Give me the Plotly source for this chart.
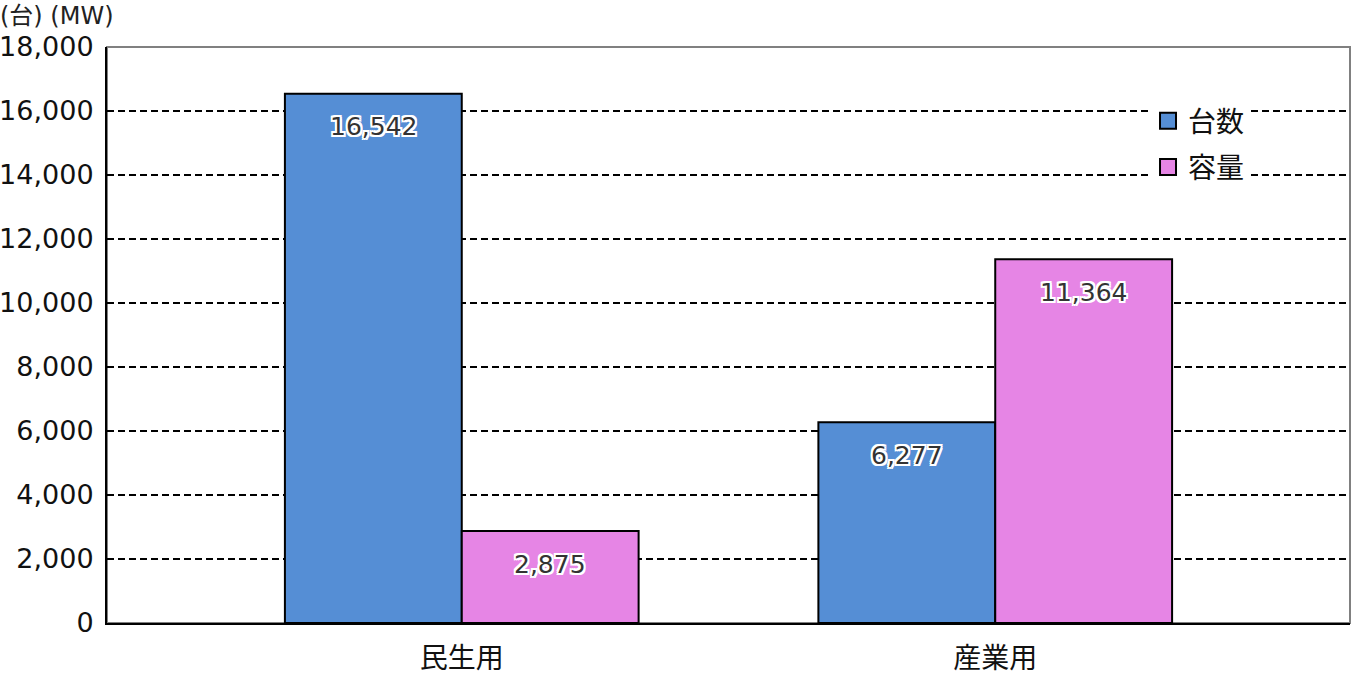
import plotly.graph_objects as go

categories = ['民生用', '産業用']
units = [16542, 6277]       # 台数
capacity = [2875, 11364]    # 容量 (MW)
series_names = ['台数', '容量']
y_ticks = list(range(0, 18001, 2000))

blue = '#558ED5'
pink = '#E685E5'
font_fam = 'DejaVu Sans, Noto Sans CJK JP, sans-serif'
outline = ', '.join(f'{dx}px {dy}px 0 #fff' for dx in (-2, 0, 2) for dy in (-2, 0, 2) if dx or dy)

fig = go.Figure()
for name, vals, col in zip(series_names, [units, capacity], [blue, pink]):
    fig.add_trace(go.Bar(x=categories, y=vals, name=name, marker=dict(color=col, line=dict(color='black', width=2)),
                         showlegend=False, hoverinfo='x+y'))
    # legend entry with a bigger square than the bar default
    fig.add_trace(go.Scatter(x=[None], y=[None], mode='markers', name=name, legendgroup=name,
                             marker=dict(symbol='square', size=16, color=col, line=dict(color='black', width=2))))

# value labels sitting inside the top of each bar
bar_px = 177
for k, vals in enumerate([units, capacity]):
    for cat, v in zip(categories, vals):
        fig.add_annotation(x=cat, y=v, xref='x', yref='y', text=f'{v:,}', showarrow=False,
                           xshift=(k - 0.5) * bar_px, yshift=-33, yanchor='middle',
                           font=dict(family=font_fam, size=25, color='#333333', shadow=outline))

fig.add_annotation(x=0, y=1, xref='paper', yref='paper', xshift=-109, yshift=15, xanchor='left', yanchor='bottom',
                   text='(台) (MW)', showarrow=False, font=dict(family=font_fam, size=24, color='#222'))

fig.add_shape(type='rect', xref='paper', yref='paper', x0=0, x1=1, y0=0, y1=1,
              line=dict(color='#808080', width=2), layer='below')

fig.update_layout(
    width=1352, height=674,
    margin=dict(l=107, r=2, t=47, b=51),
    paper_bgcolor='white', plot_bgcolor='white',
    barmode='group', bargap=0.337, bargroupgap=0,
    font=dict(family=font_fam, color='#111'),
    legend=dict(x=0.8375, y=0.915, xanchor='left', yanchor='top', bgcolor='white',
                font=dict(size=28, color='#111'), traceorder='grouped', tracegroupgap=7,
                itemsizing='trace'),
    xaxis=dict(range=[-0.665, 1.665], showline=True, linecolor='black', linewidth=2, automargin=False,
               ticks='', ticklabelstandoff=9, tickfont=dict(size=28), showgrid=False),
    yaxis=dict(range=[0, 18000], tickvals=y_ticks, tickformat=',d', showline=True, linecolor='black', linewidth=2,
               automargin=False, ticks='', ticklabelstandoff=6, tickfont=dict(size=27), showgrid=True,
               gridcolor='black', gridwidth=1.8, griddash='7px,4px', zeroline=False),
)

# page body has an 8px margin by default, drop it so the figure sits at the corner
fig.write_html('out.html', config={'displayModeBar': False}, post_script="document.body.style.margin='0';")
